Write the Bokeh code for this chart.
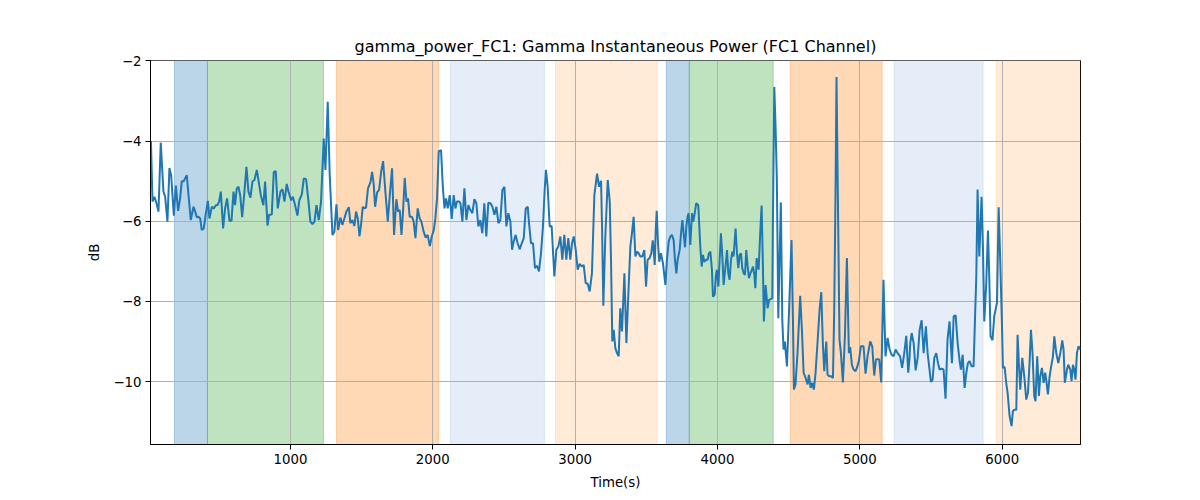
from bokeh.plotting import figure
from bokeh.models import Range1d, FixedTicker, ColumnDataSource
from bokeh.embed import file_html
from bokeh.resources import INLINE

# ---- data ----
time_s = [
    20, 31, 45, 59, 73, 89, 108, 120, 136, 150, 162, 181, 195, 211, 225, 237, 251, 260, 272, 284,
    300, 319, 331, 342, 354, 366, 377, 391, 405, 420, 431, 448, 462, 476, 487, 499, 511, 527, 541, 555,
    572, 586, 600, 611, 623, 635, 647, 661, 677, 691, 705, 719, 733, 747, 764, 775, 792, 810, 822, 839,
    850, 869, 883, 897, 911, 930, 944, 958, 974, 986, 1005, 1017, 1033, 1049, 1063, 1080, 1094, 1110, 1127,
    1140, 1155, 1169, 1183, 1199, 1215, 1225, 1234, 1246, 1262, 1276, 1295, 1309, 1323, 1335, 1351, 1365,
    1379, 1393, 1410, 1421, 1435, 1449, 1461, 1473, 1485, 1496, 1508, 1520, 1531, 1545, 1562, 1574, 1585,
    1595, 1609, 1623, 1637, 1651, 1667, 1684, 1698, 1714, 1728, 1744, 1756, 1768, 1780, 1791, 1803, 1815,
    1826, 1838, 1854, 1866, 1878, 1894, 1908, 1920, 1936, 1950, 1964, 1979, 1993, 2007, 2018, 2030, 2042,
    2058, 2070, 2082, 2093, 2105, 2119, 2133, 2147, 2159, 2170, 2185,
    2194, 2208, 2222, 2236, 2250, 2264, 2278, 2292, 2306, 2320, 2334, 2348, 2362, 2376, 2390, 2405, 2419,
    2433, 2447, 2461, 2475, 2489, 2503, 2517, 2531, 2545, 2557, 2568, 2582, 2596, 2610, 2625, 2639, 2653,
    2667, 2676, 2690, 2704, 2718, 2732, 2746, 2760, 2774, 2786, 2795, 2807, 2821, 2835, 2854, 2868, 2882,
    2896, 2910, 2924, 2938, 2952, 2966, 2978, 2990, 3004, 3018, 3032, 3046, 3060, 3074, 3088, 3102, 3118,
    3135, 3154, 3168, 3182,
    3189, 3198, 3212, 3229, 3243, 3252, 3261, 3271, 3282, 3294, 3306, 3317, 3329, 3346, 3360, 3374, 3388,
    3399, 3411, 3423, 3435, 3446, 3458, 3472, 3486, 3498, 3509, 3523, 3535, 3545, 3552, 3559, 3566, 3573,
    3582, 3591, 3603, 3617, 3626, 3634, 3645, 3657, 3669, 3680, 3692, 3701, 3711, 3720, 3734, 3744, 3753,
    3762, 3772, 3781, 3790, 3797, 3809, 3821, 3830, 3840, 3851, 3865, 3879, 3889, 3898, 3907, 3921, 3931,
    3940, 3950, 3961, 3968, 3980, 3989, 3996, 4006, 4015, 4024, 4034, 4043, 4055, 4067, 4076, 4085, 4095,
    4104, 4113, 4127, 4137, 4146, 4156, 4165, 4174, 4184, 4193, 4202, 4212, 4221, 4231, 4242, 4249, 4259,
    4266, 4275,
    4289, 4300, 4310, 4319, 4326, 4338, 4352, 4363, 4375, 4385, 4389, 4399, 4408, 4417, 4427, 4436, 4445,
    4455, 4464, 4473, 4488, 4502, 4520, 4530, 4537, 4548, 4562, 4581, 4593, 4605, 4619, 4633, 4642, 4654,
    4665, 4677, 4689, 4703, 4717, 4729, 4740, 4750, 4764, 4773, 4787, 4801, 4811, 4820, 4829, 4836, 4848,
    4857, 4867, 4881, 4895, 4909, 4923, 4932, 4944, 4956, 4970, 4979, 4993, 5007, 5026, 5040, 5054, 5073,
    5087, 5101, 5113, 5124, 5136, 5150, 5166, 5180, 5195, 5209, 5223, 5237, 5251, 5265, 5283, 5297, 5312,
    5326, 5340, 5349,
    5354, 5364, 5378, 5392, 5406, 5420, 5434, 5448, 5464, 5476, 5488, 5499, 5511, 5523, 5537, 5549, 5560,
    5574, 5588, 5602, 5616, 5630, 5647, 5659, 5673, 5687, 5701, 5710, 5722, 5736, 5748, 5759, 5771, 5785,
    5799, 5808, 5818, 5827, 5839, 5855, 5865, 5874, 5888, 5900, 5909, 5918, 5932, 5944, 5963, 5975, 5986,
    5998, 6005, 6017, 6028, 6038, 6052, 6066, 6075, 6085, 6099, 6108, 6117, 6127, 6141, 6155, 6169, 6181,
    6192, 6202, 6213, 6225, 6234, 6246, 6258, 6267, 6279, 6291, 6302, 6309, 6321, 6333, 6344, 6356, 6366,
    6380, 6394, 6408, 6422, 6431, 6440, 6455, 6464, 6478, 6487, 6497, 6506, 6515, 6525, 6536, 6548,
]

power_db = [
    -4.00, -5.51, -5.39, -5.55, -5.76, -4.04, -5.26, -5.39, -6.01, -4.67, -4.85, -5.86, -5.11, -5.74, -5.43, -5.00, -5.00, -4.93, -4.85, -5.35,
    -5.97, -5.64, -5.76, -5.90, -5.89, -5.93, -6.22, -6.18, -5.83, -5.49, -5.93, -5.64, -5.68, -5.60, -5.60, -5.51, -5.26, -6.18, -5.68, -5.43,
    -5.99, -5.99, -5.26, -5.60, -5.18, -5.14, -5.35, -5.90, -5.26, -4.64, -5.26, -5.41, -5.01, -4.97, -4.72, -4.97, -5.35, -5.60, -5.01, -6.11,
    -5.84, -5.83, -4.77, -4.75, -5.68, -5.26, -5.20, -5.51, -5.07, -5.26, -5.48, -5.39, -5.60, -5.86, -5.47, -5.33, -4.93, -4.95, -5.51,
    -6.01, -6.07, -6.01, -5.60, -5.97, -5.51, -4.68, -3.94, -4.72, -3.02, -4.85, -6.34, -6.26, -5.58, -6.22, -5.91, -6.09,
    -5.93, -5.76, -5.65, -6.05, -5.97, -6.12, -5.76, -5.93, -6.38, -6.09, -5.64, -5.68, -5.66, -5.18, -5.03, -4.77, -5.08,
    -5.64, -5.28, -5.22, -4.77, -4.50, -5.26, -6.01, -5.35, -4.68, -6.34, -5.45, -5.76, -5.72, -6.34, -5.76, -4.92, -5.51,
    -5.43, -5.89, -5.89, -6.01, -6.42, -5.68, -5.93, -6.01, -6.26, -6.41, -6.34, -6.62, -6.38, -6.22, -5.93, -5.43, -4.25,
    -4.23, -5.10, -5.68, -5.43, -5.68, -5.35, -5.94, -5.35, -5.68, -5.51, -5.51,
    -5.55, -6.01, -5.18, -5.97, -5.60, -5.72, -5.80, -5.45, -5.55, -6.13, -5.97, -6.30, -5.55, -6.38, -5.54, -5.55, -5.64,
    -5.84, -5.64, -6.05, -5.97, -5.22, -5.14, -6.13, -5.80, -6.01, -6.71, -6.51, -6.34, -6.55, -6.70, -6.55, -6.42, -5.68,
    -5.64, -6.05, -6.55, -6.55, -7.17, -7.11, -7.25, -6.80, -6.13, -5.22, -4.72, -5.14, -6.13, -6.12, -7.38, -6.71, -6.63,
    -6.38, -6.96, -6.34, -6.96, -6.42, -6.96, -6.55, -6.38, -6.71, -7.21, -7.06, -7.13, -7.09, -7.54, -7.56, -7.75, -7.30,
    -5.35, -4.81, -5.14, -4.99,
    -6.13, -8.11, -6.38, -4.97, -5.51, -6.96, -9.00, -8.71, -9.16, -9.29, -9.37, -8.17, -8.75, -7.30, -9.04, -7.79, -6.63,
    -6.30, -5.89, -6.88, -6.76, -6.80, -6.88, -6.88, -6.72, -7.63, -6.96, -6.92, -6.80, -6.48, -6.72, -7.09, -6.22, -5.74,
    -6.55, -7.01, -6.80, -7.05, -7.34, -7.59, -6.96, -6.51, -6.38, -6.34, -6.47, -6.96, -7.30, -6.96, -6.72, -6.30, -5.97,
    -6.30, -6.65, -6.13, -5.89, -5.80, -6.59, -5.80, -6.01, -5.80, -5.55, -5.60, -6.63, -7.13, -6.84, -7.01, -6.96, -6.96,
    -6.80, -6.76, -7.21, -7.88, -7.83, -7.34, -7.21, -7.63, -6.96, -6.30, -6.88, -7.59, -7.17, -6.72, -7.30, -7.46, -6.96,
    -6.76, -6.88, -6.18, -6.80, -7.17, -6.84, -6.80, -7.17, -7.30, -7.34, -6.72, -7.13, -7.42, -7.30, -7.21, -7.13, -7.34,
    -7.67, -6.92,
    -7.21, -6.30, -5.61, -7.13, -8.50, -7.59, -8.17, -7.96, -7.94, -7.92, -6.13, -2.65, -3.65, -4.97, -8.42, -6.96, -5.53,
    -8.46, -9.20, -9.00, -9.62, -8.29, -6.47, -8.46, -10.20, -10.07, -9.29, -7.86, -8.71, -9.78, -9.91, -10.07, -9.83, -10.16,
    -10.03, -10.20, -9.78, -9.00, -8.21, -7.77, -9.04, -9.74, -9.00, -9.83, -9.87, -9.87, -9.91, -8.21, -5.31, -2.40, -6.13,
    -8.95, -9.29, -10.02, -8.87, -6.92, -9.29, -9.14, -9.58, -9.70, -9.74, -9.66, -9.49, -9.12, -9.12, -9.80, -9.37, -9.00,
    -9.12, -9.85, -9.45, -9.44, -9.45, -10.02, -7.46, -9.37, -8.91, -9.20, -9.33, -9.37, -9.20, -9.29, -9.37, -9.66, -9.29,
    -8.86, -9.78, -9.41,
    -9.04, -8.79, -9.04, -9.72, -9.41, -8.71, -8.47, -9.29, -8.62, -9.29, -9.66, -10.01, -9.95, -9.41, -9.29, -9.54, -9.70,
    -9.68, -9.70, -10.43, -8.95, -8.50, -9.54, -8.37, -8.35, -9.04, -9.49, -9.70, -9.33, -10.16, -9.78, -9.54, -9.49, -9.62,
    -9.62, -8.54, -7.38, -5.21, -6.88, -5.39, -6.71, -8.50, -7.54, -6.23, -7.38, -8.87, -8.97, -8.37, -8.04, -5.65, -6.96,
    -8.54, -9.66, -9.63, -10.03, -10.28, -10.86, -11.11, -10.74, -10.70, -10.70, -8.83, -9.54, -10.20, -9.41, -9.87, -10.45, -10.28,
    -9.54, -8.71, -9.29, -10.36, -10.49, -9.37, -10.36, -9.87, -9.66, -10.03, -9.78, -9.95, -10.32, -9.87, -9.62, -9.39, -8.87,
    -9.29, -9.54, -9.29, -8.97, -9.20, -10.03, -9.70, -9.58, -9.70, -9.99, -9.58, -9.70, -9.95, -9.29, -9.12, -9.20,
]

# shaded phases: start, end, colour, alpha
span_start = [185, 417, 1323, 2124, 2861, 3640, 3802, 4511, 5241, 5958]
span_end = [417, 1232, 2040, 2784, 3577, 3802, 4392, 5157, 5866, 6560]
span_color = ["#1f77b4", "#2ca02c", "#ff7f0e", "#6f9ad6", "#ff9a3c",
              "#1f77b4", "#2ca02c", "#ff7f0e", "#6f9ad6", "#ff9a3c"]
span_alpha = [0.3, 0.3, 0.3, 0.18, 0.2, 0.3, 0.3, 0.3, 0.18, 0.2]

x_ticks = [1000, 2000, 3000, 4000, 5000, 6000]
y_ticks = [-2, -4, -6, -8, -10]
y_tick_labels = ["\u22122", "\u22124", "\u22126", "\u22128", "\u221210"]

FONT = "DejaVu Sans"

p = figure(width=1184, height=492, output_backend="svg", toolbar_location=None,
           x_range=Range1d(17, 6550), y_range=Range1d(-11.57, -1.99),
           min_border_left=150, min_border_right=104, min_border_top=60, min_border_bottom=47,
           title="gamma_power_FC1: Gamma Instantaneous Power (FC1 Channel)")

span_src = ColumnDataSource(dict(left=span_start, right=span_end, color=span_color, alpha=span_alpha))
p.quad(left="left", right="right", bottom=-100, top=100, source=span_src,
       fill_color="color", fill_alpha="alpha", line_color="color", line_alpha="alpha",
       line_width=1, level="image")

p.line(time_s, power_db, line_color="#1f77b4", line_width=2)

p.title.text_font = FONT
p.title.text_font_size = "16px"
p.title.text_font_style = "normal"
p.title.align = "center"
p.title.text_color = "black"

p.xaxis.ticker = FixedTicker(ticks=x_ticks)
p.yaxis.ticker = FixedTicker(ticks=y_ticks)
p.yaxis.major_label_overrides = {t: s for t, s in zip(y_ticks, y_tick_labels)}
p.xaxis.axis_label = "Time(s)"
p.yaxis.axis_label = "dB"

for ax in (p.xaxis, p.yaxis):
    ax.axis_label_text_font = FONT
    ax.axis_label_text_font_size = "13.3px"
    ax.axis_label_text_font_style = "normal"
    ax.axis_label_text_color = "black"
    ax.major_label_text_font = FONT
    ax.major_label_text_font_size = "13.3px"
    ax.major_label_text_color = "black"
    ax.axis_line_color = "black"
    ax.major_tick_line_color = "black"
    ax.major_tick_out = 5
    ax.major_tick_in = 0
    ax.minor_tick_line_color = None
    ax.major_label_standoff = 4
    ax.axis_label_standoff = 8

for g in (p.xgrid, p.ygrid):
    g.grid_line_color = "#b0b0b0"
    g.grid_line_width = 1

p.outline_line_color = "black"
p.outline_line_width = 1
p.background_fill_color = "white"
p.border_fill_color = "white"

open("out.html", "w").write(file_html(p, INLINE))
